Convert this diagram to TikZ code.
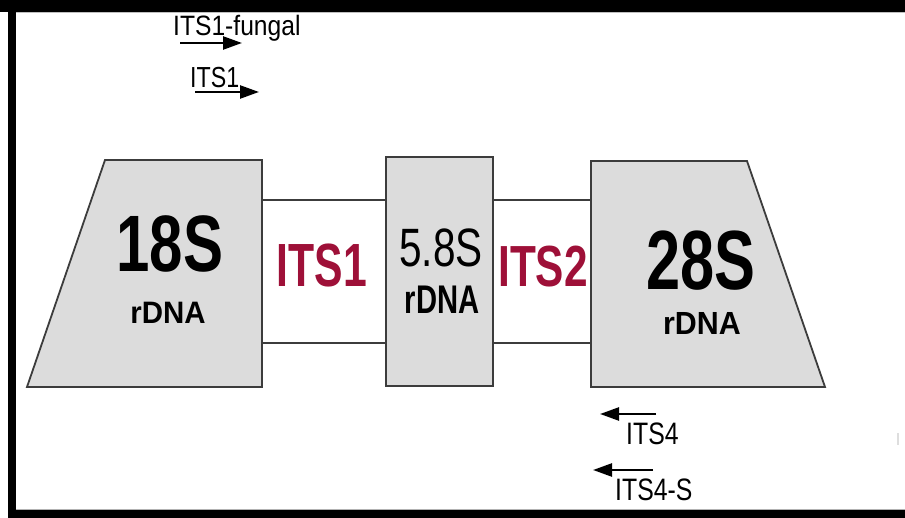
\documentclass[tikz,border=0pt]{standalone}
\usepackage{graphicx}
\usepackage{fontspec}
\setmainfont{Liberation Sans}
\usetikzlibrary{arrows.meta}
\definecolor{itsred}{RGB}{158,16,56}
\definecolor{boxfill}{RGB}{220,220,220}
\definecolor{boxline}{RGB}{60,60,60}
\newcommand{\sqtxt}[3]{\scalebox{#1}[1]{\fontsize{#2}{#2}\selectfont #3}}
\begin{document}
\begin{tikzpicture}[x=1pt,y=-1pt,
  region/.style={fill=boxfill,draw=boxline,line width=1.8pt,line join=miter},
  spacer/.style={draw=boxline,line width=1.8pt},
  lbl/.style={inner sep=0pt,anchor=base},
  plbl/.style={inner sep=0pt,anchor=base west},
  primer/.style={draw=black,line width=2.4pt,-{Triangle[length=19pt,width=13pt]}}]
\useasboundingbox (0,0) rectangle (905,518);
\fill[white] (0,0) rectangle (905,518);
% frame
\fill[black] (0,0) rectangle (905,12);
\fill[black] (8,12) rectangle (16,518);
\fill[black] (8,510) rectangle (905,518);
\draw[black!25,line width=1pt] (16,12.5) -- (905,12.5);
\draw[black!30,line width=1pt] (16,509.5) -- (905,509.5);
% faint tick on the right
\draw[black!13,line width=1.5pt] (898,433) -- (898,445);
% regions
\coordinate (a18tl) at (105,160);
\coordinate (a18tr) at (262,160);
\coordinate (a18br) at (262,387);
\coordinate (a18bl) at (27,387);
\coordinate (a28tl) at (591,161);
\coordinate (a28tr) at (747,161);
\coordinate (a28br) at (825,387);
\coordinate (a28bl) at (591,387);
\draw[region] (a18tl) -- (a18tr) -- (a18br) -- (a18bl) -- cycle;
\draw[region] (a28tl) -- (a28tr) -- (a28br) -- (a28bl) -- cycle;
\node[region,minimum width=107pt,minimum height=229pt,inner sep=0pt] (s58) at (439.5,271.5) {};
% spacer lines
\coordinate (i1t) at (262,200);
\coordinate (i1b) at (262,343);
\coordinate (i2t) at (591,200);
\coordinate (i2b) at (591,343);
\draw[spacer] (i1t) -- (s58.west |- i1t);
\draw[spacer] (i1b) -- (s58.west |- i1b);
\draw[spacer] (s58.east |- i2t) -- (i2t);
\draw[spacer] (s58.east |- i2b) -- (i2b);
% labels
\node[lbl] (t18) at (170,272) {\sqtxt{0.75}{80}{\bfseries 18S}};
\node[lbl] (r18) at (168,324) {\sqtxt{0.95}{31}{\bfseries rDNA}};
\node[lbl,text=itsred] (its1) at (322,287) {\sqtxt{0.70}{61}{\bfseries ITS1}};
\node[lbl] (t58) at (441,267) {\sqtxt{0.75}{54}{5.8S}};
\node[lbl] (r58) at (442,314) {\sqtxt{0.73}{40}{\bfseries rDNA}};
\node[lbl,text=itsred] (its2) at (543,287) {\sqtxt{0.73}{58}{\bfseries ITS2}};
\node[lbl] (t28) at (701,290) {\sqtxt{0.73}{84}{\bfseries 28S}};
\node[lbl] (r28) at (702,335) {\sqtxt{0.95}{32}{\bfseries rDNA}};
% primers
\node[plbl] (pf) at (173,36) {\sqtxt{0.88}{28}{ITS1-fungal}};
\node[plbl] (p1) at (190,88) {\sqtxt{0.8}{29}{ITS1}};
\node[plbl] (p4) at (626,445) {\sqtxt{0.8}{31}{ITS4}};
\node[plbl] (p4s) at (615,500) {\sqtxt{0.8}{31}{ITS4-S}};
\coordinate (pfa) at (180,43);
\coordinate (pfb) at (242,43);
\coordinate (p1a) at (195,92);
\coordinate (p1b) at (259,92);
\coordinate (p4a) at (656,414);
\coordinate (p4b) at (600,414);
\coordinate (p4sa) at (653,470);
\coordinate (p4sb) at (593,470);
\draw[primer] (pfa) -- (pfb);
\draw[primer] (p1a) -- (p1b);
\draw[primer] (p4a) -- (p4b);
\draw[primer] (p4sa) -- (p4sb);
\end{tikzpicture}
\end{document}
